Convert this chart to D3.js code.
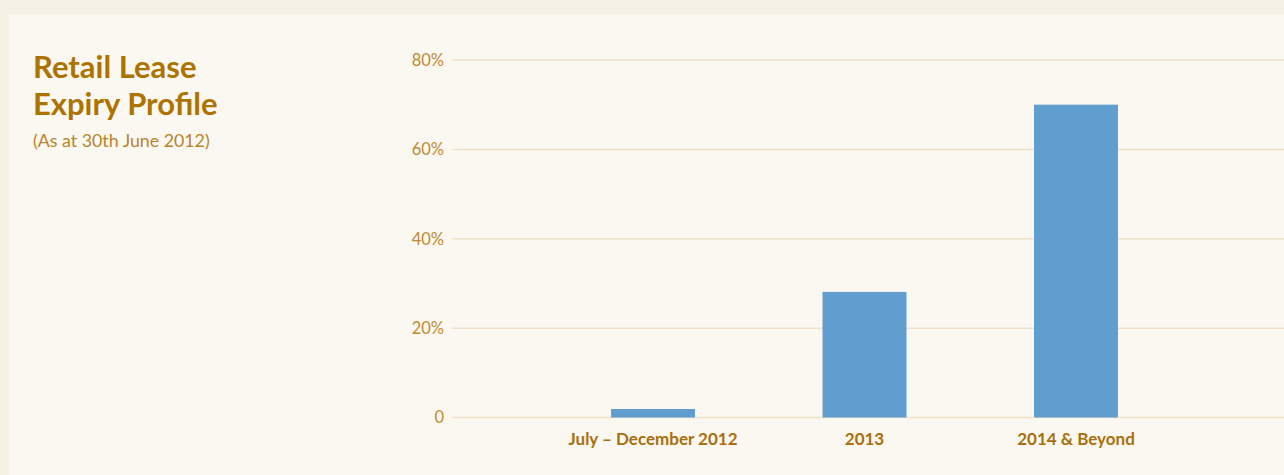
<!DOCTYPE html>
<html><head><meta charset="utf-8">
<script src="https://cdn.jsdelivr.net/npm/d3@7"></script>
<style>
html,body{margin:0;padding:0;background:#f6f1e6;}
svg{display:block;}
</style></head>
<body>
<svg id="chart" width="1284" height="475"></svg>
<script>
const categories = ["July \u2013 December 2012", "2013", "2014 & Beyond"];
const values = [1.9, 28.1, 70.0];
const yTicks = [0, 20, 40, 60, 80];
const yTickLabels = ["0", "20%", "40%", "60%", "80%"];
const titleLines = ["Retail Lease", "Expiry Profile"];
const subtitle = "(As at 30th June 2012)";

const svg = d3.select("#chart");
const W = 1284, H = 475;
svg.append("rect").attr("x",0).attr("y",0).attr("width",W).attr("height",H).attr("fill","#f6f1e6");
svg.append("rect").attr("x",9).attr("y",14).attr("width",W-9).attr("height",H-14).attr("fill","#fbf8f1");

const font = "Lato, 'Open Sans', sans-serif";
const title = svg.append("g").attr("font-family", font);
title.selectAll("text.t").data(titleLines).join("text")
  .attr("class","t").attr("x",33).attr("y",(d,i)=>78+i*37)
  .attr("font-size",31).attr("font-weight","bold").attr("fill","#ad7300").text(d=>d);
title.append("text").attr("x",33).attr("y",147).attr("font-size",17.8)
  .attr("fill","#b9842a").text(subtitle);

const x = d3.scaleBand().domain(categories).range([452,1277]).paddingInner(0.603).paddingOuter(0.752);
const y = d3.scaleLinear().domain([0,80]).range([417.5,60]);

const grid = svg.append("g");
grid.selectAll("line").data(yTicks).join("line")
  .attr("x1",452).attr("x2",W).attr("y1",d=>y(d)).attr("y2",d=>y(d))
  .attr("stroke","#efe1c8").attr("stroke-width",1.5);

const yAxis = d3.axisLeft(y).tickValues(yTicks).tickFormat((d,i)=>yTickLabels[i]).tickSize(0).tickPadding(8);
const ya = svg.append("g").attr("transform","translate(452,0)").call(yAxis);
ya.select(".domain").remove();
ya.selectAll("text").attr("font-family",font).attr("font-size",16.5).attr("fill","#c08a30");

svg.append("g").selectAll("rect").data(values).join("rect")
  .attr("x",(d,i)=>x(categories[i])).attr("width",x.bandwidth())
  .attr("y",d=>y(d)).attr("height",d=>y(0)-y(d)).attr("fill","#5f9ecf");

const xAxis = d3.axisBottom(x).tickSize(0).tickPadding(15);
const xa = svg.append("g").attr("transform",`translate(0,${y(0)})`).call(xAxis);
xa.select(".domain").remove();
xa.selectAll("text").attr("font-family",font).attr("font-size",17).attr("font-weight","bold").attr("fill","#a86f0c");
</script>
</body></html>
